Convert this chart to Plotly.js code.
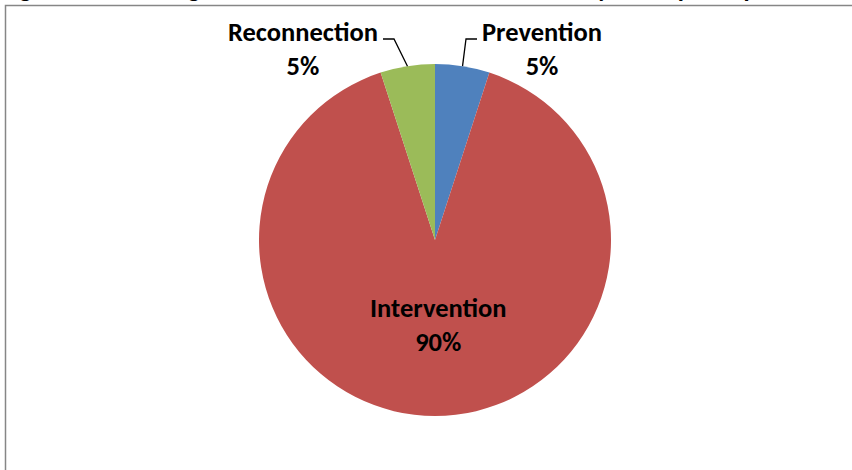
<!DOCTYPE html>
<html>
<head>
<meta charset="utf-8">
<script src="https://cdn.plot.ly/plotly-3.0.1.min.js"></script>
<style>html,body{margin:0;padding:0;background:#fff;}#chart{width:852px;height:470px;}</style>
</head>
<body>
<div id="chart"></div>
<script>
// ---- data ----
const categories = ["Prevention", "Intervention", "Reconnection"];
const values = [5, 90, 5];
const sliceColors = ["#4F81BD", "#C0504D", "#9BBB59"];
const titleText = "Figure 5: Percentage of resources allocated to each area by these participants";

// ---- layout constants (pixels) ----
const W = 852, H = 470;
const CX = 435, CY = 240, R = 176;
const FONT = "Carlito, Lato, 'Liberation Sans', Arial, sans-serif";
const FS = 26.5;

function px(x) { return x / W; }
function py(y) { return 1 - y / H; }

const total = values.reduce((a, b) => a + b, 0);
const pct = values.map(v => Math.round(v / total * 100));

// label placement (pixel centres) and leader elbows
const labelPos = {
  "Prevention":   {x: 542, y: 49, elbow: [466, 39], end: [477, 39]},
  "Intervention": {x: 438, y: 325},
  "Reconnection": {x: 303, y: 49, elbow: [394, 39], end: [383, 39]}
};

const annotations = categories.map((c, i) => ({
  text: "<b>" + c + "</b><br><b>" + pct[i] + "%</b>",
  xref: "paper", yref: "paper",
  x: px(labelPos[c].x), y: py(labelPos[c].y),
  xanchor: "center", yanchor: "middle",
  showarrow: false,
  font: {family: FONT, size: FS, color: "#000"}
}));

annotations.push({
  text: "<b>" + titleText + "</b>",
  xref: "paper", yref: "paper", x: 0, y: 1,
  xanchor: "left", yanchor: "bottom", yshift: -6,
  showarrow: false,
  font: {family: FONT, size: 25, color: "#000"}
});

// leader lines from mid-angle of slice edge
const shapes = [];
let cum = 0;
categories.forEach((c, i) => {
  const frac = values[i] / total;
  const mid = (cum + frac / 2) * 2 * Math.PI; // clockwise from 12 o'clock
  cum += frac;
  const lp = labelPos[c];
  if (!lp.elbow) return;
  const ex = CX + R * Math.sin(mid), ey = CY - R * Math.cos(mid);
  shapes.push({
    type: "path", xref: "paper", yref: "paper",
    path: `M ${px(ex)},${py(ey)} L ${px(lp.elbow[0])},${py(lp.elbow[1])} L ${px(lp.end[0])},${py(lp.end[1])}`,
    line: {color: "#000", width: 1.3}
  });
});

// chart border
shapes.push({
  type: "rect", xref: "paper", yref: "paper",
  x0: px(5.5), x1: px(W + 10), y0: py(H + 10), y1: py(5.5),
  line: {color: "#868686", width: 1.5}, fillcolor: "rgba(0,0,0,0)", layer: "below"
});

const trace = {
  type: "pie",
  labels: categories,
  values: values,
  sort: false,
  direction: "clockwise",
  rotation: 0,
  textinfo: "none",
  hoverinfo: "label+percent",
  marker: {colors: sliceColors, line: {width: 0}},
  domain: {x: [px(CX - R), px(CX + R)], y: [py(CY + R), py(CY - R)]},
  showlegend: false
};

const layout = {
  width: W, height: H,
  margin: {l: 0, r: 0, t: 0, b: 0},
  paper_bgcolor: "#fff",
  plot_bgcolor: "#fff",
  showlegend: false,
  annotations: annotations,
  shapes: shapes
};

Plotly.newPlot("chart", [trace], layout, {displayModeBar: false, staticPlot: true});
</script>
</body>
</html>
